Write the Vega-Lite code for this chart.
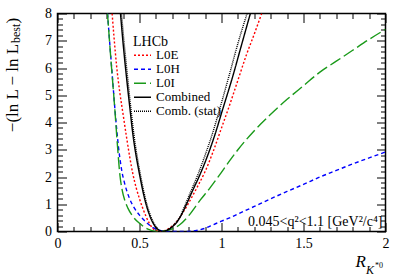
{
  "$schema": "https://vega.github.io/schema/vega-lite/v6.json",
  "width": 328,
  "height": 218,
  "autosize": "none",
  "padding": {"left": 57.5, "top": 13.5, "right": 21.5, "bottom": 45.5},
  "background": "white",
  "config": {
    "view": {"stroke": "black", "strokeWidth": 1.5},
    "font": "Liberation Serif",
    "axis": {"grid": false, "domain": false, "tickColor": "black", "tickWidth": 1, "labelColor": "black", "titleColor": "black"}
  },
  "resolve": {"axis": {"x": "independent", "y": "independent"}},
  "layer": [
    {
      "data": {"values": [
        {"s": "L0E", "x": 0.333, "y": 8}, {"s": "L0E", "x": 0.345, "y": 7.1}, {"s": "L0E", "x": 0.36, "y": 6.1}, {"s": "L0E", "x": 0.38, "y": 5.1}, {"s": "L0E", "x": 0.40, "y": 4.3}, {"s": "L0E", "x": 0.42, "y": 3.5}, {"s": "L0E", "x": 0.44, "y": 2.75}, {"s": "L0E", "x": 0.46, "y": 2.1}, {"s": "L0E", "x": 0.48, "y": 1.6}, {"s": "L0E", "x": 0.50, "y": 1.2}, {"s": "L0E", "x": 0.52, "y": 0.85}, {"s": "L0E", "x": 0.54, "y": 0.55}, {"s": "L0E", "x": 0.56, "y": 0.3}, {"s": "L0E", "x": 0.58, "y": 0.12}, {"s": "L0E", "x": 0.60, "y": 0.03}, {"s": "L0E", "x": 0.625, "y": 0}, {"s": "L0E", "x": 0.66, "y": 0.05}, {"s": "L0E", "x": 0.70, "y": 0.2}, {"s": "L0E", "x": 0.725, "y": 0.35}, {"s": "L0E", "x": 0.76, "y": 0.65}, {"s": "L0E", "x": 0.80, "y": 1.05}, {"s": "L0E", "x": 0.83, "y": 1.38}, {"s": "L0E", "x": 0.86, "y": 1.72}, {"s": "L0E", "x": 0.90, "y": 2.2}, {"s": "L0E", "x": 0.95, "y": 2.95}, {"s": "L0E", "x": 1.0, "y": 3.8}, {"s": "L0E", "x": 1.05, "y": 4.65}, {"s": "L0E", "x": 1.10, "y": 5.55}, {"s": "L0E", "x": 1.15, "y": 6.45}, {"s": "L0E", "x": 1.20, "y": 7.25}, {"s": "L0E", "x": 1.245, "y": 8},
        {"s": "L0H", "x": 0.305, "y": 8}, {"s": "L0H", "x": 0.32, "y": 6.8}, {"s": "L0H", "x": 0.335, "y": 5.65}, {"s": "L0H", "x": 0.35, "y": 4.5}, {"s": "L0H", "x": 0.37, "y": 3.2}, {"s": "L0H", "x": 0.39, "y": 2.3}, {"s": "L0H", "x": 0.41, "y": 1.75}, {"s": "L0H", "x": 0.44, "y": 1.2}, {"s": "L0H", "x": 0.47, "y": 0.85}, {"s": "L0H", "x": 0.50, "y": 0.6}, {"s": "L0H", "x": 0.53, "y": 0.4}, {"s": "L0H", "x": 0.56, "y": 0.24}, {"s": "L0H", "x": 0.59, "y": 0.12}, {"s": "L0H", "x": 0.62, "y": 0.05}, {"s": "L0H", "x": 0.66, "y": 0.01}, {"s": "L0H", "x": 0.72, "y": 0}, {"s": "L0H", "x": 0.78, "y": 0}, {"s": "L0H", "x": 0.84, "y": 0.03}, {"s": "L0H", "x": 0.90, "y": 0.12}, {"s": "L0H", "x": 0.95, "y": 0.25}, {"s": "L0H", "x": 1.0, "y": 0.38}, {"s": "L0H", "x": 1.05, "y": 0.5}, {"s": "L0H", "x": 1.1, "y": 0.64}, {"s": "L0H", "x": 1.2, "y": 0.92}, {"s": "L0H", "x": 1.3, "y": 1.2}, {"s": "L0H", "x": 1.4, "y": 1.47}, {"s": "L0H", "x": 1.5, "y": 1.73}, {"s": "L0H", "x": 1.6, "y": 2.0}, {"s": "L0H", "x": 1.7, "y": 2.24}, {"s": "L0H", "x": 1.8, "y": 2.48}, {"s": "L0H", "x": 1.9, "y": 2.7}, {"s": "L0H", "x": 2.0, "y": 2.92},
        {"s": "L0I", "x": 0.305, "y": 8}, {"s": "L0I", "x": 0.32, "y": 6.75}, {"s": "L0I", "x": 0.335, "y": 5.6}, {"s": "L0I", "x": 0.35, "y": 4.45}, {"s": "L0I", "x": 0.365, "y": 3.2}, {"s": "L0I", "x": 0.38, "y": 2.1}, {"s": "L0I", "x": 0.395, "y": 1.5}, {"s": "L0I", "x": 0.41, "y": 1.15}, {"s": "L0I", "x": 0.43, "y": 0.85}, {"s": "L0I", "x": 0.46, "y": 0.55}, {"s": "L0I", "x": 0.50, "y": 0.3}, {"s": "L0I", "x": 0.53, "y": 0.16}, {"s": "L0I", "x": 0.56, "y": 0.07}, {"s": "L0I", "x": 0.59, "y": 0.015}, {"s": "L0I", "x": 0.615, "y": 0}, {"s": "L0I", "x": 0.65, "y": 0.02}, {"s": "L0I", "x": 0.70, "y": 0.1}, {"s": "L0I", "x": 0.745, "y": 0.25}, {"s": "L0I", "x": 0.80, "y": 0.58}, {"s": "L0I", "x": 0.87, "y": 1.15}, {"s": "L0I", "x": 0.93, "y": 1.6}, {"s": "L0I", "x": 0.985, "y": 2.05}, {"s": "L0I", "x": 1.05, "y": 2.6}, {"s": "L0I", "x": 1.1, "y": 3.0}, {"s": "L0I", "x": 1.2, "y": 3.7}, {"s": "L0I", "x": 1.3, "y": 4.3}, {"s": "L0I", "x": 1.4, "y": 4.85}, {"s": "L0I", "x": 1.5, "y": 5.35}, {"s": "L0I", "x": 1.6, "y": 5.85}, {"s": "L0I", "x": 1.7, "y": 6.25}, {"s": "L0I", "x": 1.8, "y": 6.65}, {"s": "L0I", "x": 1.9, "y": 7.05}, {"s": "L0I", "x": 2.0, "y": 7.42},
        {"s": "Combined", "x": 0.384, "y": 8}, {"s": "Combined", "x": 0.40, "y": 6.9}, {"s": "Combined", "x": 0.42, "y": 5.7}, {"s": "Combined", "x": 0.44, "y": 4.6}, {"s": "Combined", "x": 0.46, "y": 3.55}, {"s": "Combined", "x": 0.48, "y": 2.75}, {"s": "Combined", "x": 0.50, "y": 2.1}, {"s": "Combined", "x": 0.52, "y": 1.5}, {"s": "Combined", "x": 0.54, "y": 1.0}, {"s": "Combined", "x": 0.56, "y": 0.62}, {"s": "Combined", "x": 0.58, "y": 0.34}, {"s": "Combined", "x": 0.60, "y": 0.15}, {"s": "Combined", "x": 0.62, "y": 0.04}, {"s": "Combined", "x": 0.643, "y": 0}, {"s": "Combined", "x": 0.67, "y": 0.05}, {"s": "Combined", "x": 0.70, "y": 0.17}, {"s": "Combined", "x": 0.725, "y": 0.32}, {"s": "Combined", "x": 0.75, "y": 0.55}, {"s": "Combined", "x": 0.785, "y": 0.98}, {"s": "Combined", "x": 0.82, "y": 1.45}, {"s": "Combined", "x": 0.866, "y": 2.05}, {"s": "Combined", "x": 0.91, "y": 2.7}, {"s": "Combined", "x": 0.957, "y": 3.5}, {"s": "Combined", "x": 1.008, "y": 4.5}, {"s": "Combined", "x": 1.069, "y": 5.7}, {"s": "Combined", "x": 1.12, "y": 6.8}, {"s": "Combined", "x": 1.176, "y": 8},
        {"s": "Comb. (stat)", "x": 0.39, "y": 8}, {"s": "Comb. (stat)", "x": 0.405, "y": 7.0}, {"s": "Comb. (stat)", "x": 0.425, "y": 5.8}, {"s": "Comb. (stat)", "x": 0.445, "y": 4.65}, {"s": "Comb. (stat)", "x": 0.465, "y": 3.6}, {"s": "Comb. (stat)", "x": 0.485, "y": 2.78}, {"s": "Comb. (stat)", "x": 0.505, "y": 2.1}, {"s": "Comb. (stat)", "x": 0.525, "y": 1.5}, {"s": "Comb. (stat)", "x": 0.545, "y": 1.0}, {"s": "Comb. (stat)", "x": 0.565, "y": 0.62}, {"s": "Comb. (stat)", "x": 0.585, "y": 0.33}, {"s": "Comb. (stat)", "x": 0.605, "y": 0.14}, {"s": "Comb. (stat)", "x": 0.625, "y": 0.035}, {"s": "Comb. (stat)", "x": 0.645, "y": 0}, {"s": "Comb. (stat)", "x": 0.67, "y": 0.055}, {"s": "Comb. (stat)", "x": 0.70, "y": 0.19}, {"s": "Comb. (stat)", "x": 0.725, "y": 0.35}, {"s": "Comb. (stat)", "x": 0.75, "y": 0.58}, {"s": "Comb. (stat)", "x": 0.78, "y": 1.0}, {"s": "Comb. (stat)", "x": 0.815, "y": 1.5}, {"s": "Comb. (stat)", "x": 0.857, "y": 2.1}, {"s": "Comb. (stat)", "x": 0.90, "y": 2.8}, {"s": "Comb. (stat)", "x": 0.945, "y": 3.6}, {"s": "Comb. (stat)", "x": 0.994, "y": 4.6}, {"s": "Comb. (stat)", "x": 1.05, "y": 5.8}, {"s": "Comb. (stat)", "x": 1.10, "y": 6.9}, {"s": "Comb. (stat)", "x": 1.156, "y": 8}
      ]},
      "mark": {"type": "line", "interpolate": "monotone", "strokeWidth": 1.4, "clip": true},
      "encoding": {
        "x": {
          "field": "x", "type": "quantitative",
          "scale": {"domain": [0, 2], "nice": false, "zero": false},
          "axis": {
            "orient": "bottom",
            "values": [0, 0.1, 0.2, 0.3, 0.4, 0.5, 0.6, 0.7, 0.8, 0.9, 1, 1.1, 1.2, 1.3, 1.4, 1.5, 1.6, 1.7, 1.8, 1.9, 2],
            "format": "~g",
            "labelExpr": "datum.value % 0.5 === 0 ? datum.label : ''",
            "tickSize": {"condition": {"test": "datum.value % 0.5 === 0", "value": -9}, "value": -5},
            "labelFont": "Liberation Serif", "labelFontSize": 14, "labelPadding": 14,
            "labelFlush": false, "labelOverlap": false, "labelBound": false,
            "title": "R", "titleFont": "Liberation Serif", "titleFontStyle": "italic", "titleFontSize": 17, "titleFontWeight": "normal",
            "titleX": 308, "titleY": 34.7, "titleAlign": "right", "titleBaseline": "alphabetic", "titleAnchor": null
          }
        },
        "y": {
          "field": "y", "type": "quantitative",
          "scale": {"domain": [0, 8], "nice": false},
          "axis": {
            "orient": "left",
            "values": [0, 0.2, 0.4, 0.6, 0.8, 1, 1.2, 1.4, 1.6, 1.8, 2, 2.2, 2.4, 2.6, 2.8, 3, 3.2, 3.4, 3.6, 3.8, 4, 4.2, 4.4, 4.6, 4.8, 5, 5.2, 5.4, 5.6, 5.8, 6, 6.2, 6.4, 6.6, 6.8, 7, 7.2, 7.4, 7.6, 7.8, 8],
            "format": "~g",
            "labelExpr": "datum.value % 1 === 0 ? datum.label : ''",
            "tickSize": {"condition": {"test": "datum.value % 1 === 0", "value": -9}, "value": -5},
            "labelFont": "Liberation Serif", "labelFontSize": 14, "labelPadding": 15,
            "labelFlush": false, "labelOverlap": false, "labelBound": false,
            "title": "−(ln L − ln L", "titleFont": "Liberation Serif", "titleFontSize": 17, "titleFontWeight": "normal",
            "titleAngle": 270, "titleX": -40, "titleY": 118.2, "titleAlign": "left", "titleBaseline": "alphabetic", "titleAnchor": null
          }
        },
        "color": {
          "field": "s", "type": "nominal",
          "scale": {"domain": ["L0E", "L0H", "L0I", "Combined", "Comb. (stat)"], "range": ["#ff0000", "#0000ff", "#1a9a1a", "#000000", "#000000"]},
          "legend": {"title": "LHCb", "orient": "none", "legendX": 75.5, "legendY": 21.5, "symbolType": "stroke", "symbolSize": 289, "symbolStrokeWidth": 1.5, "labelFont": "Liberation Serif", "labelFontSize": 13, "labelColor": "black", "titleFont": "Liberation Serif", "titleFontSize": 14, "titleFontWeight": "normal", "titleColor": "black", "rowPadding": -1, "clipHeight": 12.45, "titlePadding": 0, "labelOffset": 4, "padding": 0}
        },
        "strokeDash": {
          "field": "s", "type": "nominal",
          "scale": {"domain": ["L0E", "L0H", "L0I", "Combined", "Comb. (stat)"], "range": [[2, 2], [4, 3], [12, 4], [1, 0], [1, 1]]},
          "legend": {"title": "LHCb", "orient": "none", "legendX": 75.5, "legendY": 21.5, "symbolType": "stroke", "symbolSize": 289, "symbolStrokeWidth": 1.5, "labelFont": "Liberation Serif", "labelFontSize": 13, "labelColor": "black", "titleFont": "Liberation Serif", "titleFontSize": 14, "titleFontWeight": "normal", "titleColor": "black", "rowPadding": -1, "clipHeight": 12.45, "titlePadding": 0, "labelOffset": 4, "padding": 0}
        }
      }
    },
    {
      "data": {"values": [{}]},
      "mark": {"type": "text", "text": "0.045<q²<1.1 [GeV²/c⁴]", "align": "right", "baseline": "alphabetic", "dx": -3, "dy": -6, "font": "Liberation Serif", "fontSize": 14, "color": "black"},
      "encoding": {
        "x": {"datum": 2, "type": "quantitative", "axis": {
          "orient": "top", "labels": false, "title": null,
          "values": [0, 0.1, 0.2, 0.3, 0.4, 0.5, 0.6, 0.7, 0.8, 0.9, 1, 1.1, 1.2, 1.3, 1.4, 1.5, 1.6, 1.7, 1.8, 1.9, 2],
          "tickSize": {"condition": {"test": "datum.value % 0.5 === 0", "value": -9}, "value": -5}
        }},
        "y": {"datum": 0, "type": "quantitative", "axis": {
          "orient": "right", "labels": false, "title": null,
          "values": [0, 0.2, 0.4, 0.6, 0.8, 1, 1.2, 1.4, 1.6, 1.8, 2, 2.2, 2.4, 2.6, 2.8, 3, 3.2, 3.4, 3.6, 3.8, 4, 4.2, 4.4, 4.6, 4.8, 5, 5.2, 5.4, 5.6, 5.8, 6, 6.2, 6.4, 6.6, 6.8, 7, 7.2, 7.4, 7.6, 7.8, 8],
          "tickSize": {"condition": {"test": "datum.value % 1 === 0", "value": -9}, "value": -5}
        }}
      }
    },
    {
      "data": {"values": [{}]},
      "mark": {"type": "text", "text": "K", "align": "left", "baseline": "alphabetic", "dx": -19.5, "dy": 42.5, "font": "Liberation Serif", "fontStyle": "italic", "fontSize": 12, "color": "black"},
      "encoding": {"x": {"datum": 2, "type": "quantitative", "axis": null}, "y": {"datum": 0, "type": "quantitative", "axis": null}}
    },
    {
      "data": {"values": [{}]},
      "mark": {"type": "text", "text": "*0", "align": "left", "baseline": "alphabetic", "dx": -10.5, "dy": 36, "font": "Liberation Serif", "fontSize": 8, "color": "black"},
      "encoding": {"x": {"datum": 2, "type": "quantitative", "axis": null}, "y": {"datum": 0, "type": "quantitative", "axis": null}}
    },
    {
      "data": {"values": [{}]},
      "mark": {"type": "text", "text": "best", "angle": 270, "align": "left", "baseline": "alphabetic", "dx": -29.5, "dy": -37.5, "font": "Liberation Serif", "fontSize": 12, "color": "black"},
      "encoding": {"x": {"datum": 0, "type": "quantitative", "axis": null}, "y": {"datum": 8, "type": "quantitative", "axis": null}}
    },
    {
      "data": {"values": [{}]},
      "mark": {"type": "text", "text": ")", "angle": 270, "align": "left", "baseline": "alphabetic", "dx": -10.1, "dy": -40, "font": "Liberation Serif", "fontSize": 17, "color": "black"},
      "encoding": {"x": {"datum": 0, "type": "quantitative", "axis": null}, "y": {"datum": 8, "type": "quantitative", "axis": null}}
    }
  ]
}
